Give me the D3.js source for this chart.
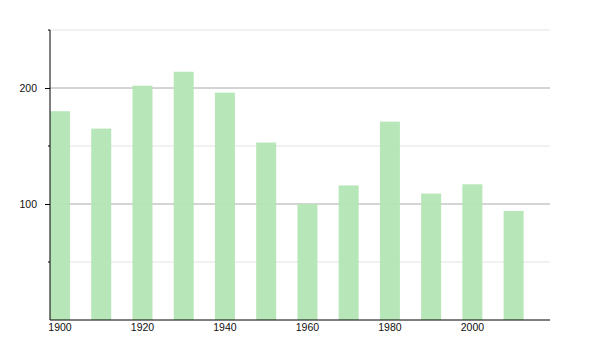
<!DOCTYPE html>
<html lang="en">
<head>
  <meta charset="UTF-8">
  <title>Bars by decade</title>
  <script src="https://d3js.org/d3.v7.min.js"></script>
  <style>
    body {
      margin: 0;
      background: #fff;
      font-family: 'Liberation Sans', Arial, Helvetica, sans-serif;
    }
    .axis text {
      font-size: 10.5px;
      fill: #111;
    }
  </style>
</head>
<body>
  <svg width="600" height="350"></svg>
  <script>
    const years = [1900, 1910, 1920, 1930, 1940, 1950, 1960, 1970, 1980, 1990, 2000, 2010];
    const values = [180, 165, 202, 214, 196, 153, 100, 116, 171, 109, 117, 94];
    const xTickLabels = [1900, 1920, 1940, 1960, 1980, 2000];
    const majorTicks = [100, 200];
    const minorTicks = [50, 150, 250];

    const margin = {left: 50, right: 550, top: 30, bottom: 320};
    const svg = d3.select("svg");

    const x = d3.scaleBand()
      .domain(years)
      .range([margin.left, margin.right])
      .paddingInner(0.515)
      .paddingOuter(0.32)
      .align(0);

    const y = d3.scaleLinear()
      .domain([0, 250])
      .range([margin.bottom, margin.top]);

    // grid lines
    svg.append("g").selectAll("line")
      .data(minorTicks)
      .enter().append("line")
      .attr("x1", margin.left).attr("x2", margin.right)
      .attr("y1", d => y(d)).attr("y2", d => y(d))
      .attr("stroke", "#e3e3e3");

    svg.append("g").selectAll("line")
      .data(majorTicks)
      .enter().append("line")
      .attr("x1", margin.left).attr("x2", margin.right)
      .attr("y1", d => y(d)).attr("y2", d => y(d))
      .attr("stroke", "#aaaaaa");

    // bars
    svg.append("g").selectAll("rect")
      .data(years)
      .enter().append("rect")
      .attr("x", d => x(d))
      .attr("y", (d, i) => y(values[i]))
      .attr("width", x.bandwidth())
      .attr("height", (d, i) => margin.bottom - y(values[i]))
      .attr("fill", "#b3e6b4")
      .attr("fill-opacity", 0.95);

    // y axis: major ticks with labels, minor ticks short
    const yAxis = svg.append("g")
      .attr("class", "axis")
      .attr("transform", "translate(" + margin.left + ",0)")
      .call(d3.axisLeft(y).tickValues(majorTicks).tickSize(5).tickPadding(8));
    yAxis.select(".domain").attr("stroke", "#000").attr("d", "M0," + margin.top + "V" + margin.bottom);
    yAxis.selectAll(".tick line").attr("stroke", "#000");

    yAxis.selectAll(".minor")
      .data(minorTicks)
      .enter().append("line")
      .attr("class", "minor")
      .attr("x1", -2).attr("x2", 0)
      .attr("y1", d => y(d)).attr("y2", d => y(d))
      .attr("stroke", "#000");

    // x axis: labels centered under every other bar, no tick marks
    const xAxis = svg.append("g")
      .attr("class", "axis")
      .attr("transform", "translate(0," + margin.bottom + ")")
      .call(d3.axisBottom(x).tickValues(xTickLabels).tickSize(0).tickPadding(4));
    xAxis.select(".domain").attr("stroke", "#000").attr("d", "M" + margin.left + ",0H" + margin.right);
  </script>
</body>
</html>
